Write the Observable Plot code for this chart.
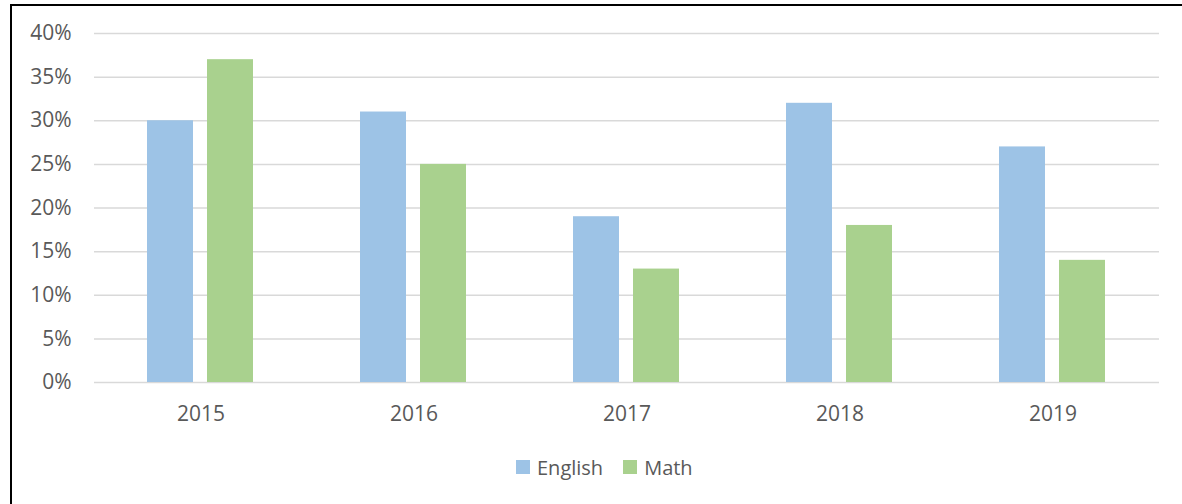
<!DOCTYPE html>
<html>
<head>
<meta charset="utf-8">
<script src="https://cdn.jsdelivr.net/npm/d3@7"></script>
<script src="https://cdn.jsdelivr.net/npm/@observablehq/plot@0.6"></script>
<style>
  html, body { margin: 0; padding: 0; background: #fff; overflow: hidden; }
  body { width: 1182px; height: 504px; position: relative; font-family: "Open Sans", sans-serif; }
  #frame { position: absolute; left: 10px; top: 4px; width: 1300px; height: 600px;
           border-left: 2px solid #000; border-top: 2px solid #000; }
  #chart { position: absolute; left: 0; top: 0; }
  #legend { position: absolute; left: 516px; top: 454px; height: 26px; display: flex; align-items: center;
            font-size: 20px; color: #595959; }
  .sw { width: 14px; height: 14px; margin-right: 7px; }
  .item { display: flex; align-items: center; margin-right: 20px; }
</style>
</head>
<body>
<div id="frame"></div>
<div id="chart"></div>
<div id="legend"></div>
<script>
const years = ["2015", "2016", "2017", "2018", "2019"];
const english = [30, 31, 19, 32, 27];
const math = [37, 25, 13, 18, 14];
const subjects = ["English", "Math"];
const colors = ["#9dc3e6", "#a9d18e"];
const yTicks = [0, 5, 10, 15, 20, 25, 30, 35, 40];

const data = [];
years.forEach((y, i) => {
  data.push({year: y, subject: "English", value: english[i]});
  data.push({year: y, subject: "Math", value: math[i]});
});

const chart = Plot.plot({
  width: 1182,
  height: 440,
  marginLeft: 92,
  marginRight: 21,
  marginTop: 33,
  marginBottom: 58,
  style: {fontFamily: "'Open Sans', sans-serif", fontSize: "21px", color: "#595959", background: "transparent"},
  fx: {domain: years, padding: 0, label: null},
  x: {domain: subjects, paddingInner: 0.2295, paddingOuter: 0.869, axis: null},
  y: {domain: [0, 40], label: null},
  color: {domain: subjects, range: colors},
  marks: [
    Plot.gridY(yTicks, {stroke: "#d9d9d9", strokeOpacity: 1, strokeWidth: 1.5}),
    Plot.barY(data, {fx: "year", x: "subject", y: "value", fill: "subject"}),
    Plot.axisY(yTicks, {tickSize: 0, tickPadding: 23, fontSize: 21, tickFormat: d => d + "%", label: null}),
    Plot.axisFx({anchor: "bottom", tickSize: 0, tickPadding: 24, fontSize: 21, label: null})
  ]
});
document.getElementById("chart").appendChild(chart);

const legend = document.getElementById("legend");
subjects.forEach((s, i) => {
  const item = document.createElement("div");
  item.className = "item";
  const sw = document.createElement("div");
  sw.className = "sw";
  sw.style.background = colors[i];
  const t = document.createElement("span");
  t.textContent = s;
  item.appendChild(sw);
  item.appendChild(t);
  legend.appendChild(item);
});
</script>
</body>
</html>
